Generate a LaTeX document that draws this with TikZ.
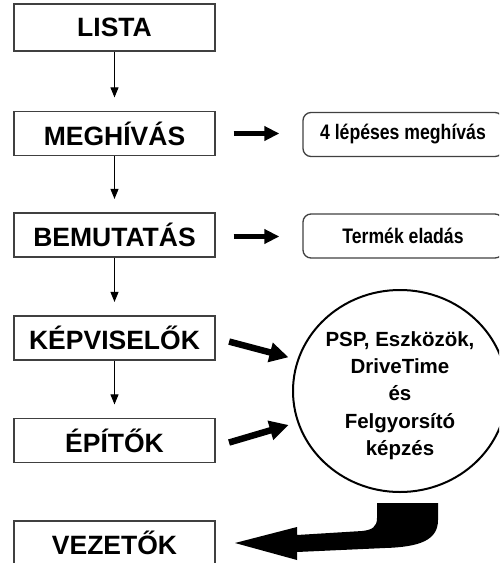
\documentclass[tikz,border=0pt]{standalone}
\usepackage{fontspec}
\setmainfont{Liberation Sans}
\newfontfamily\narrowsans[FakeStretch=0.84]{Liberation Sans}
\usetikzlibrary{arrows.meta,shapes.geometric}

\begin{document}
\begin{tikzpicture}[x=1pt, y=-1pt,
    stage/.style={draw=black!75, line width=1.2pt, minimum width=201pt, minimum height=44pt, inner sep=0pt, font=\bfseries\fontsize{26.5}{30}\selectfont},
    extra/.style={draw=black!75, line width=1.3pt, rounded corners=8pt, minimum width=200pt, minimum height=44pt, inner sep=0pt, font=\narrowsans\bfseries\fontsize{21}{24}\selectfont},
    flow/.style={line width=0.9pt, -{Triangle[length=10pt,width=8pt]}, shorten >=13.5pt},
    push/.style={line width=5pt, -{Triangle[length=15pt,width=14pt]}, shorten <=18pt, shorten >=23pt},
    feed/.style={line width=6.5pt, -{Triangle[length=19pt,width=19pt]}, shorten <=14pt, shorten >=9pt}]
    \useasboundingbox (0,0) rectangle (499,563);
    \clip (0,0) rectangle (499,563);

    % Main steps
    \foreach \name/\txt/\y in {meg/MEGHÍVÁS/133.5, bemu/BEMUTATÁS/235, kep/KÉPVISELŐK/338, epi/ÉPÍTŐK/440.5, vez/VEZETŐK/543}
        \node[stage] (\name) at (114.5,\y) {\txt};
    \node[stage, minimum height=47pt] (lista) at (114.5,27.5) {LISTA};
    \foreach \a/\b in {lista/meg, meg/bemu, bemu/kep, kep/epi}
        \draw[flow] (\a) -- (\b);

    % Side boxes
    \node[extra] (lepes) at (403,134.5) {4 lépéses meghívás};
    \node[extra] (termek) at (403,236) {Termék eladás};
    \draw[push] (meg.east) -- (meg.east -| lepes.west);
    \draw[push] ([yshift=-1.5pt]bemu.east) -- ([yshift=-1.5pt]bemu.east -| termek.west);

    % Training
    \node[ellipse, draw, line width=2pt, minimum width=214pt, minimum height=202pt, inner sep=0pt, align=center,
          font=\bfseries\fontsize{20.5}{27.3}\selectfont] (kepzes) at (400,391)
        {\rule{0pt}{24pt}PSP, Eszközök,\\DriveTime\\és\\Felgyorsító\\képzés};
    \draw[feed] (kep.east) -- (kepzes.163);
    \draw[feed] ([yshift=-6pt]epi.east) -- (kepzes.197.5);

    % Big bent arrow to VEZETŐK
    \fill (377,503) -- (438,503) -- (438,520) .. controls (438,540) and (420,547) .. (385,548)
        -- (297,552) -- (297,560) -- (235,543) -- (297,527) -- (297,535) -- (362,531)
        .. controls (372,530) and (377,527) .. (377,518) -- cycle;
\end{tikzpicture}
\end{document}
